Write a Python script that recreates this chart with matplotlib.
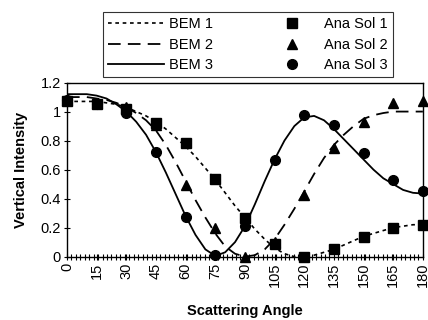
import matplotlib
matplotlib.use("Agg")
import matplotlib.pyplot as plt
from matplotlib.ticker import MultipleLocator

plt.rcParams['font.family'] = ['Liberation Sans', 'DejaVu Sans']

# Analytic solutions (markers) every 15 degrees
ana_angles = [0, 15, 30, 45, 60, 75, 90, 105, 120, 135, 150, 165, 180]
ana_sol_1 = [1.07, 1.05, 1.02, 0.92, 0.78, 0.535, 0.265, 0.09, 0.0, 0.05, 0.135, 0.2, 0.22]
ana_sol_2 = [1.08, 1.06, 1.03, 0.91, 0.495, 0.2, 0.0, 0.10, 0.425, 0.75, 0.93, 1.06, 1.07]
ana_sol_3 = [1.08, 1.05, 0.99, 0.72, 0.275, 0.01, 0.21, 0.667, 0.977, 0.91, 0.715, 0.53, 0.455]

# BEM curves read every 5 degrees
bem_angles = list(range(0, 181, 5))
bem_1 = [1.07, 1.07, 1.07, 1.07, 1.06, 1.05, 1.03, 1.00, 0.97, 0.93, 0.88, 0.82, 0.76,
         0.69, 0.61, 0.53, 0.44, 0.35, 0.27, 0.19, 0.12, 0.06, 0.02, 0.0, 0.0, 0.01,
         0.03, 0.05, 0.08, 0.11, 0.14, 0.16, 0.18, 0.20, 0.21, 0.22, 0.22]
bem_2 = [1.10, 1.10, 1.10, 1.09, 1.08, 1.06, 1.03, 0.99, 0.94, 0.87, 0.77, 0.65, 0.52,
         0.39, 0.27, 0.16, 0.07, 0.02, 0.0, 0.01, 0.05, 0.12, 0.22, 0.33, 0.45, 0.57,
         0.68, 0.77, 0.84, 0.90, 0.95, 0.975, 0.99, 1.0, 1.0, 1.0, 1.0]
bem_3 = [1.12, 1.12, 1.12, 1.11, 1.09, 1.05, 1.00, 0.93, 0.84, 0.72, 0.58, 0.43, 0.28,
         0.15, 0.05, 0.005, 0.03, 0.10, 0.21, 0.36, 0.52, 0.67, 0.80, 0.90, 0.96, 0.97,
         0.94, 0.88, 0.81, 0.74, 0.67, 0.60, 0.54, 0.50, 0.46, 0.44, 0.435]

x_ticks = [0, 15, 30, 45, 60, 75, 90, 105, 120, 135, 150, 165, 180]
y_ticks = [0, 0.2, 0.4, 0.6, 0.8, 1, 1.2]
y_tick_labels = ['0', '0.2', '0.4', '0.6', '0.8', '1', '1.2']

FS = 10.5

fig = plt.figure(figsize=(4.28, 3.2), dpi=100)
ax = fig.add_axes([0.1565, 0.198, 0.8315, 0.544])

l1, = ax.plot(bem_angles, bem_1, color='black', lw=1.2, dashes=(2.2, 2.2), label='BEM 1')
l2, = ax.plot(bem_angles, bem_2, color='black', lw=1.3, dashes=(7, 4), label='BEM 2')
l3, = ax.plot(bem_angles, bem_3, color='black', lw=1.3, label='BEM 3')
m1, = ax.plot(ana_angles, ana_sol_1, 's', color='black', ms=7, ls='none', label='Ana Sol 1', clip_on=False)
m2, = ax.plot(ana_angles, ana_sol_2, '^', color='black', ms=7.5, ls='none', label='Ana Sol 2', clip_on=False)
m3, = ax.plot(ana_angles, ana_sol_3, 'o', color='black', ms=7, ls='none', label='Ana Sol 3', clip_on=False)

ax.set_xlim(0, 180)
ax.set_ylim(0, 1.2)
ax.set_xticks(x_ticks)
ax.set_xticklabels([str(v) for v in x_ticks], rotation=90, fontsize=FS)
ax.xaxis.set_minor_locator(MultipleLocator(2.25))
ax.set_yticks(y_ticks)
ax.set_yticklabels(y_tick_labels, fontsize=FS)
ax.tick_params(axis='x', which='both', direction='inout', length=5, width=0.8, pad=2)
ax.tick_params(axis='y', which='both', direction='inout', length=5, width=0.8, pad=2)
for s in ax.spines.values():
    s.set_linewidth(1.0)
    s.set_color('black')

ax.set_xlabel('Scattering Angle', fontsize=FS, fontweight='bold', labelpad=12)
ax.set_ylabel('Vertical Intensity', fontsize=FS, fontweight='bold', labelpad=9)

leg = fig.legend(handles=[l1, l2, l3, m1, m2, m3], ncol=2, loc='upper left',
                 bbox_to_anchor=(0.241, 0.9625), fontsize=FS, frameon=True, fancybox=False,
                 handlelength=3.8, handletextpad=0.35, columnspacing=3.5, labelspacing=0.45,
                 borderpad=0.35, borderaxespad=0)
leg.get_frame().set_edgecolor('black')
leg.get_frame().set_linewidth(0.8)

fig.savefig('out.png', dpi=100)
